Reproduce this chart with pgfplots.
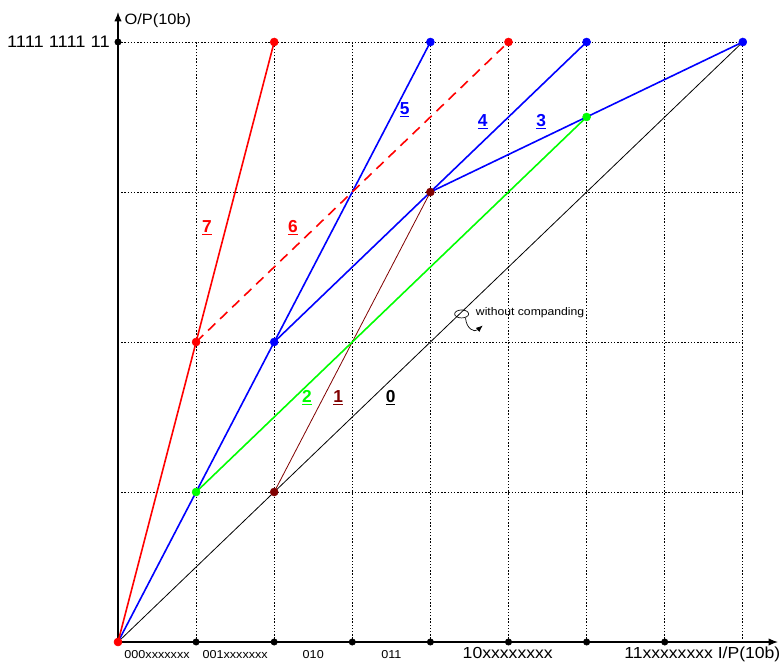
\documentclass[border=0pt]{standalone}
\usepackage{graphicx}
\usepackage{pgfplots}
\pgfplotsset{compat=1.18}
\usepackage{fontspec}
\setmainfont{Liberation Sans}
\usetikzlibrary{arrows.meta}
\definecolor{mred}{RGB}{255,0,0}
\definecolor{mblue}{RGB}{0,0,255}
\definecolor{mgreen}{RGB}{0,255,0}
\definecolor{mmaroon}{RGB}{128,0,0}
\tikzset{
  gridln/.style={black, line width=0.65pt, dash pattern=on 1pt off 1.4pt},
  numlabel/.style={font=\fontsize{13}{15}\selectfont\bfseries},
}
\newcommand{\wide}[1]{\scalebox{1.1}[1]{#1}}
\begin{document}
\begin{tikzpicture}
\useasboundingbox (-88.5pt,-15pt) rectangle (495.75pt,481.5pt);
\begin{axis}[
  x=58.575pt, y=112.5pt,
  xmin=0, xmax=8.45, ymin=0, ymax=4.2,
  axis lines=left,
  axis line style={line width=0.9pt, -{Latex[length=7pt,width=5.5pt]}},
  xtick=\empty, ytick=\empty,
  clip=false,
]
% grid
\draw[gridln] (axis cs:1,0) -- (axis cs:1,4);
\draw[gridln] (axis cs:2,0) -- (axis cs:2,4);
\draw[gridln] (axis cs:3,0) -- (axis cs:3,4);
\draw[gridln] (axis cs:4,0) -- (axis cs:4,4);
\draw[gridln] (axis cs:5,0) -- (axis cs:5,4);
\draw[gridln] (axis cs:6,0) -- (axis cs:6,4);
\draw[gridln] (axis cs:7,0) -- (axis cs:7,4);
\draw[gridln] (axis cs:8,0) -- (axis cs:8,4);
\draw[gridln] (axis cs:0,1) -- (axis cs:8,1);
\draw[gridln] (axis cs:0,2) -- (axis cs:8,2);
\draw[gridln] (axis cs:0,3) -- (axis cs:8,3);
\draw[gridln] (axis cs:0,4) -- (axis cs:8,4);
% line 0
\addplot[black, line width=0.6pt] coordinates {(0,0) (8,4)};
% line 1
\addplot[mmaroon, line width=0.6pt] coordinates {(2,1) (4,3)};
% line 2
\addplot[mgreen, line width=1.2pt] coordinates {(1,1) (6,3.5)};
% blue lines
\addplot[mblue, line width=1.2pt] coordinates {(0,0) (2,2) (4,4)};
\addplot[mblue, line width=1.2pt] coordinates {(2,2) (4,3) (6,3.5) (8,4)};
\addplot[mblue, line width=1.2pt] coordinates {(4,3) (6,4)};
% red lines
\addplot[mred, line width=1.2pt] coordinates {(0,0) (1,2) (2,4)};
\addplot[mred, line width=1.2pt, dash pattern=on 7.5pt off 5pt] coordinates {(1,2) (5,4)};
% markers
\addplot[only marks, mark=*, mark size=2.4pt, black] coordinates {(1,0) (2,0) (3,0) (4,0) (5,0) (6,0) (7,0) (0,4)};
\addplot[only marks, mark=*, mark size=3pt, mblue] coordinates {(2,2) (4,4) (6,4) (8,4)};
\addplot[only marks, mark=*, mark size=3pt, mgreen] coordinates {(1,1) (6,3.5)};
\addplot[only marks, mark=*, mark size=3pt, mmaroon] coordinates {(2,1) (4,3)};
\addplot[only marks, mark=*, mark size=3pt, mred] coordinates {(0,0) (1,2) (2,4) (5,4)};
% number labels
\node[numlabel, mred] at (axis cs:1.14,2.76) {\underline{7}};
\node[numlabel, mred] at (axis cs:2.24,2.76) {\underline{6}};
\node[numlabel, mblue] at (axis cs:3.67,3.55) {\underline{5}};
\node[numlabel, mblue] at (axis cs:4.67,3.47) {\underline{4}};
\node[numlabel, mblue] at (axis cs:5.42,3.47) {\underline{3}};
\node[numlabel, mgreen] at (axis cs:2.42,1.63) {\underline{2}};
\node[numlabel, mmaroon] at (axis cs:2.82,1.63) {\underline{1}};
\node[numlabel, black] at (axis cs:3.49,1.63) {\underline{0}};
% axis texts
\node[anchor=east, font=\fontsize{12.5}{14}\selectfont, inner sep=0pt] at ([xshift=-6pt]axis cs:0,4) {\wide{1111 1111 11}};
\node[anchor=west, font=\fontsize{11.2}{13}\selectfont, inner sep=0pt] at (axis cs:0.08,4.14) {\wide{O/P(10b)}};
\node[anchor=base, font=\fontsize{8.6}{10}\selectfont, inner sep=0pt] at (axis cs:0.5,-0.107) {\wide{000xxxxxxx}};
\node[anchor=base, font=\fontsize{8.6}{10}\selectfont, inner sep=0pt] at (axis cs:1.5,-0.107) {\wide{001xxxxxxx}};
\node[anchor=base, font=\fontsize{8.6}{10}\selectfont, inner sep=0pt] at (axis cs:2.5,-0.107) {\wide{010}};
\node[anchor=base, font=\fontsize{8.6}{10}\selectfont, inner sep=0pt] at (axis cs:3.5,-0.107) {\wide{011}};
\node[anchor=base, font=\fontsize{12}{14}\selectfont, inner sep=0pt] at (axis cs:4.99,-0.107) {\wide{10xxxxxxxx}};
\node[anchor=base, font=\fontsize{12}{14}\selectfont, inner sep=0pt] at (axis cs:7.05,-0.107) {\wide{11xxxxxxxx}};
\node[anchor=base, font=\fontsize{12}{14}\selectfont, inner sep=0pt] at (axis cs:8.08,-0.107) {\wide{I/P(10b)}};
% annotation
\draw[black, line width=0.5pt] (axis cs:4.40,2.187) ellipse [x radius=5.25pt, y radius=3pt];
\draw[black, line width=0.5pt, -{Latex[length=5pt,width=4pt]}] (axis cs:4.45,2.16) .. controls (axis cs:4.46,2.09) and (axis cs:4.56,2.06) .. (axis cs:4.67,2.11);
\node[anchor=west, font=\fontsize{8.3}{10}\selectfont, inner sep=0pt] at (axis cs:4.58,2.193) {\wide{without companding}};
\end{axis}
\end{tikzpicture}
\end{document}
